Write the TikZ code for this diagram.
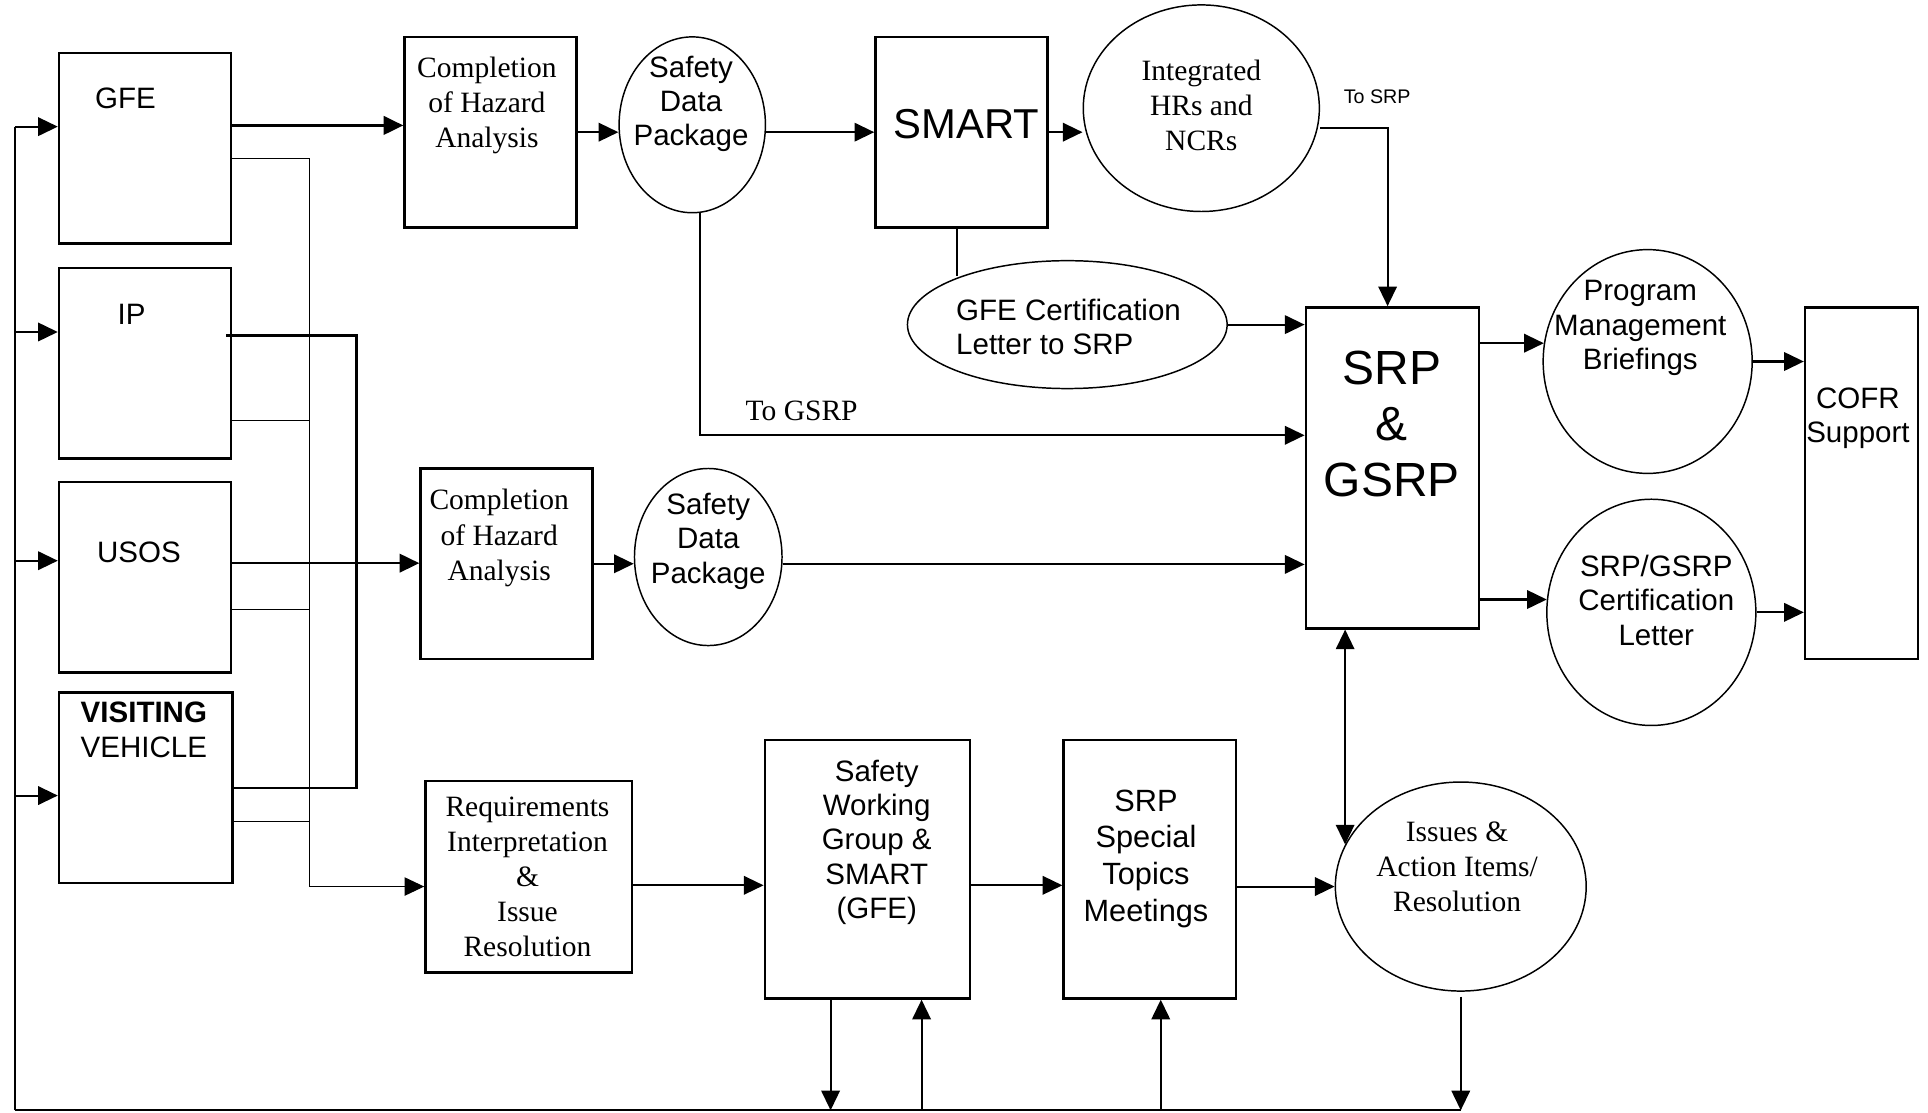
\documentclass[tikz,border=0pt]{standalone}
\usepackage{fontspec}
\setmainfont{Liberation Sans}
\newfontfamily\tnr{Liberation Serif}
\usetikzlibrary{positioning, shapes.geometric, arrows.meta}

\begin{document}
\begin{tikzpicture}[x=0.5pt, y=-0.5pt,
	box/.style={draw, line width=1pt, inner sep=0pt},
	oval/.style={draw, ellipse, line width=0.6pt, inner sep=0pt},
	conn/.style={line width=0.85pt},
	thinln/.style={line width=0.4pt},
	arr/.style={conn, -{Triangle[length=8pt, width=7.5pt]}},
	arrtwo/.style={conn, {Triangle[length=8pt, width=7.5pt]}-{Triangle[length=8pt, width=7.5pt]}},
	txt/.style={inner sep=0pt, align=center, font=\fontsize{12}{14}\selectfont},
	serif/.style={inner sep=0pt, align=center, font=\tnr\fontsize{12}{14.25}\selectfont}
	]
	\useasboundingbox (0,0) rectangle (1568,905);

	% sources
	\node[box, minimum width=70pt, minimum height=77.5pt] (gfe) at (118,120.5) {};
	\node[box, minimum width=70pt, minimum height=77.5pt] (ip) at (118,295.5) {};
	\node[box, minimum width=70pt, minimum height=77.5pt] (usos) at (118,469.5) {};
	\node[box, minimum width=70.5pt, minimum height=77.5pt] (vv) at (118.5,640.5) {};
	\node[txt] (gfe-t) at (102,80) {GFE};
	\node[txt] (ip-t) at (107,256) {IP};
	\node[txt] (usos-t) at (113,449) {USOS};
	\node[txt, font=\fontsize{12}{14.5}\selectfont] (vv-t) at (117,593.5) {\textbf{VISITING}\\VEHICLE};

	% upper row
	\node[box, minimum width=70pt, minimum height=77.5pt] (comp1) at (399,107.5) {};
	\node[serif] (comp1-t) at (396,85.5) {Completion\\of Hazard\\Analysis};
	\node[oval, minimum width=59.5pt, minimum height=71.5pt] (sdp1) at (563,101.5) {};
	\node[txt] (sdp1-t) at (562,84.5) {Safety\\Data\\Package};
	\node[box, minimum width=70pt, minimum height=77.5pt] (smart) at (782,107.5) {};
	\node[txt, font=\fontsize{17}{20}\selectfont] (smart-t) at (786,101) {SMART};
	\node[oval, minimum width=96pt, minimum height=84pt] (integ) at (977,88) {};
	\node[serif] (integ-t) at (977,86) {Integrated\\HRs and\\NCRs};
	\node[txt, font=\fontsize{8}{9}\selectfont] (tosrp) at (1120,79) {To SRP};
	\node[oval, minimum width=130pt, minimum height=52pt] (gfecert) at (868,264) {};
	\node[txt, align=left] (gfecert-t) at (869,266) {GFE Certification\\Letter to SRP};
	\node[serif] (togsrp) at (652,334) {To GSRP};

	% review
	\node[box, minimum width=70.5pt, minimum height=130.5pt] (srp) at (1132.5,380.5) {};
	\node[txt, font=\fontsize{19.5}{22.75}\selectfont] (srp-t) at (1132,344.5) {SRP\\\&\\GSRP};
	\node[oval, minimum width=85pt, minimum height=91pt] (pmb) at (1340,294) {};
	\node[txt] (pmb-t) at (1334,267) {Program\\Management\\Briefings};
	\node[oval, minimum width=85pt, minimum height=92pt] (cert) at (1343,498) {};
	\node[txt] (cert-t) at (1347,488) {SRP/GSRP\\Certification\\Letter};
	\node[box, minimum width=46pt, minimum height=143pt] (cofr) at (1514,393) {};
	\node[txt] (cofr-t) at (1511,340) {COFR\\Support};

	% middle row
	\node[box, minimum width=70pt, minimum height=77.5pt] (comp2) at (412,458.5) {};
	\node[serif] (comp2-t) at (406,437.5) {Completion\\of Hazard\\Analysis};
	\node[oval, minimum width=60pt, minimum height=72pt] (sdp2) at (576,453) {};
	\node[txt] (sdp2-t) at (576,440) {Safety\\Data\\Package};

	% lower row
	\node[box, minimum width=84pt, minimum height=78pt] (req) at (430,713) {};
	\node[serif] (req-t) at (429,713) {Requirements\\Interpretation\\\&\\Issue\\Resolution};
	\node[box, minimum width=83.5pt, minimum height=105pt] (swg) at (705.5,707) {};
	\node[txt] (swg-t) at (713,685) {Safety\\Working\\Group \&\\SMART\\(GFE)};
	\node[box, minimum width=70pt, minimum height=105pt] (spec) at (935,707) {};
	\node[txt, font=\fontsize{12.5}{15}\selectfont] (spec-t) at (932,698.5) {SRP\\Special\\Topics\\Meetings};
	\node[oval, minimum width=102pt, minimum height=85pt] (issues) at (1188,721) {};
	\node[serif] (issues-t) at (1185,705) {Issues \&\\Action Items/\\Resolution};

	% feedback loop
	\coordinate (fb) at (12,903);
	\coordinate (tj) at (252,721);
	\coordinate (tk) at (290,641);
	\draw[conn] (fb) -- (fb |- 0,103);
	\draw[conn] (fb) -- (issues.south |- fb);
	\foreach \n/\y in {gfe/103, ip/270, usos/456, vv/647}
		\draw[arr] (fb |- 0,\y) -- (\n.west |- 0,\y);
	\draw[arr] ([yshift=-2pt]issues.south) -- (issues.south |- fb);
	\draw[arr] ([xshift=-15pt]swg.south) -- ([xshift=-15pt]swg.south |- fb);
	\draw[arr] ([xshift=22pt]swg.south |- fb) -- ([xshift=22pt]swg.south);
	\draw[arr] ([xshift=4.5pt]spec.south |- fb) -- ([xshift=4.5pt]spec.south);

	% source links
	\draw[arr, line width=1.1pt] (gfe.east |- 0,102) -- (comp1.west |- 0,102);
	\draw[thinln] (gfe.east |- 0,129) -| (tj);
	\foreach \n/\y in {ip/342, usos/496, vv/668}
		\draw[thinln] (\n.east |- 0,\y) -- (tj |- 0,\y);
	\draw[thinln, -{Triangle[length=8pt, width=7.5pt]}] (tj) -- (req.west |- tj);
	\draw[conn, line width=1pt] ([xshift=-2.5pt]ip.east |- 0,273) -| (tk) -- (vv.east |- tk);
	\draw[arr, line width=1pt] (usos.east |- 0,458) -- (comp2.west |- 0,458);

	% flow
	\draw[arr] (comp1.east) -- (comp1.east -| sdp1.west);
	\draw[arr] (sdp1.east |- smart.west) -- (smart.west);
	\draw[arr] (smart.east) -- (smart.east -| integ.west);
	\draw[arr] ([yshift=-8pt]integ.east) -| ([xshift=-2pt]srp.north);
	\draw[conn] ([xshift=-2pt]smart.south) -- ([xshift=-2pt]smart.south |- gfecert.155);
	\draw[arr] (gfecert.east) -- (gfecert.east -| srp.west);
	\draw[arr] ([xshift=3pt]sdp1.south) |- ([yshift=13.25pt]srp.west);
	\draw[arr] (srp.east |- pmb.170) -- (pmb.170);
	\draw[arr] (srp.east |- cert.173) -- (cert.173);
	\draw[arr] (pmb.east) -- (pmb.east -| cofr.west);
	\draw[arr] (cert.east) -- (cert.east -| cofr.west);
	\draw[arr] (comp2.east) -- (comp2.east -| sdp2.west);
	\draw[arr] ([yshift=-3pt]sdp2.east) -- ([yshift=-3pt]sdp2.east -| srp.west);
	\draw[arr] ([yshift=-3.5pt]req.east) -- ([yshift=-3.5pt]req.east -| swg.west);
	\draw[arr] ([yshift=-6.5pt]swg.east) -- ([yshift=-6.5pt]swg.east -| spec.west);
	\draw[arr] (spec.east |- issues.west) -- (issues.west);
	\draw[arrtwo] (issues.160 |- srp.south) -- (issues.160);
\end{tikzpicture}
\end{document}
